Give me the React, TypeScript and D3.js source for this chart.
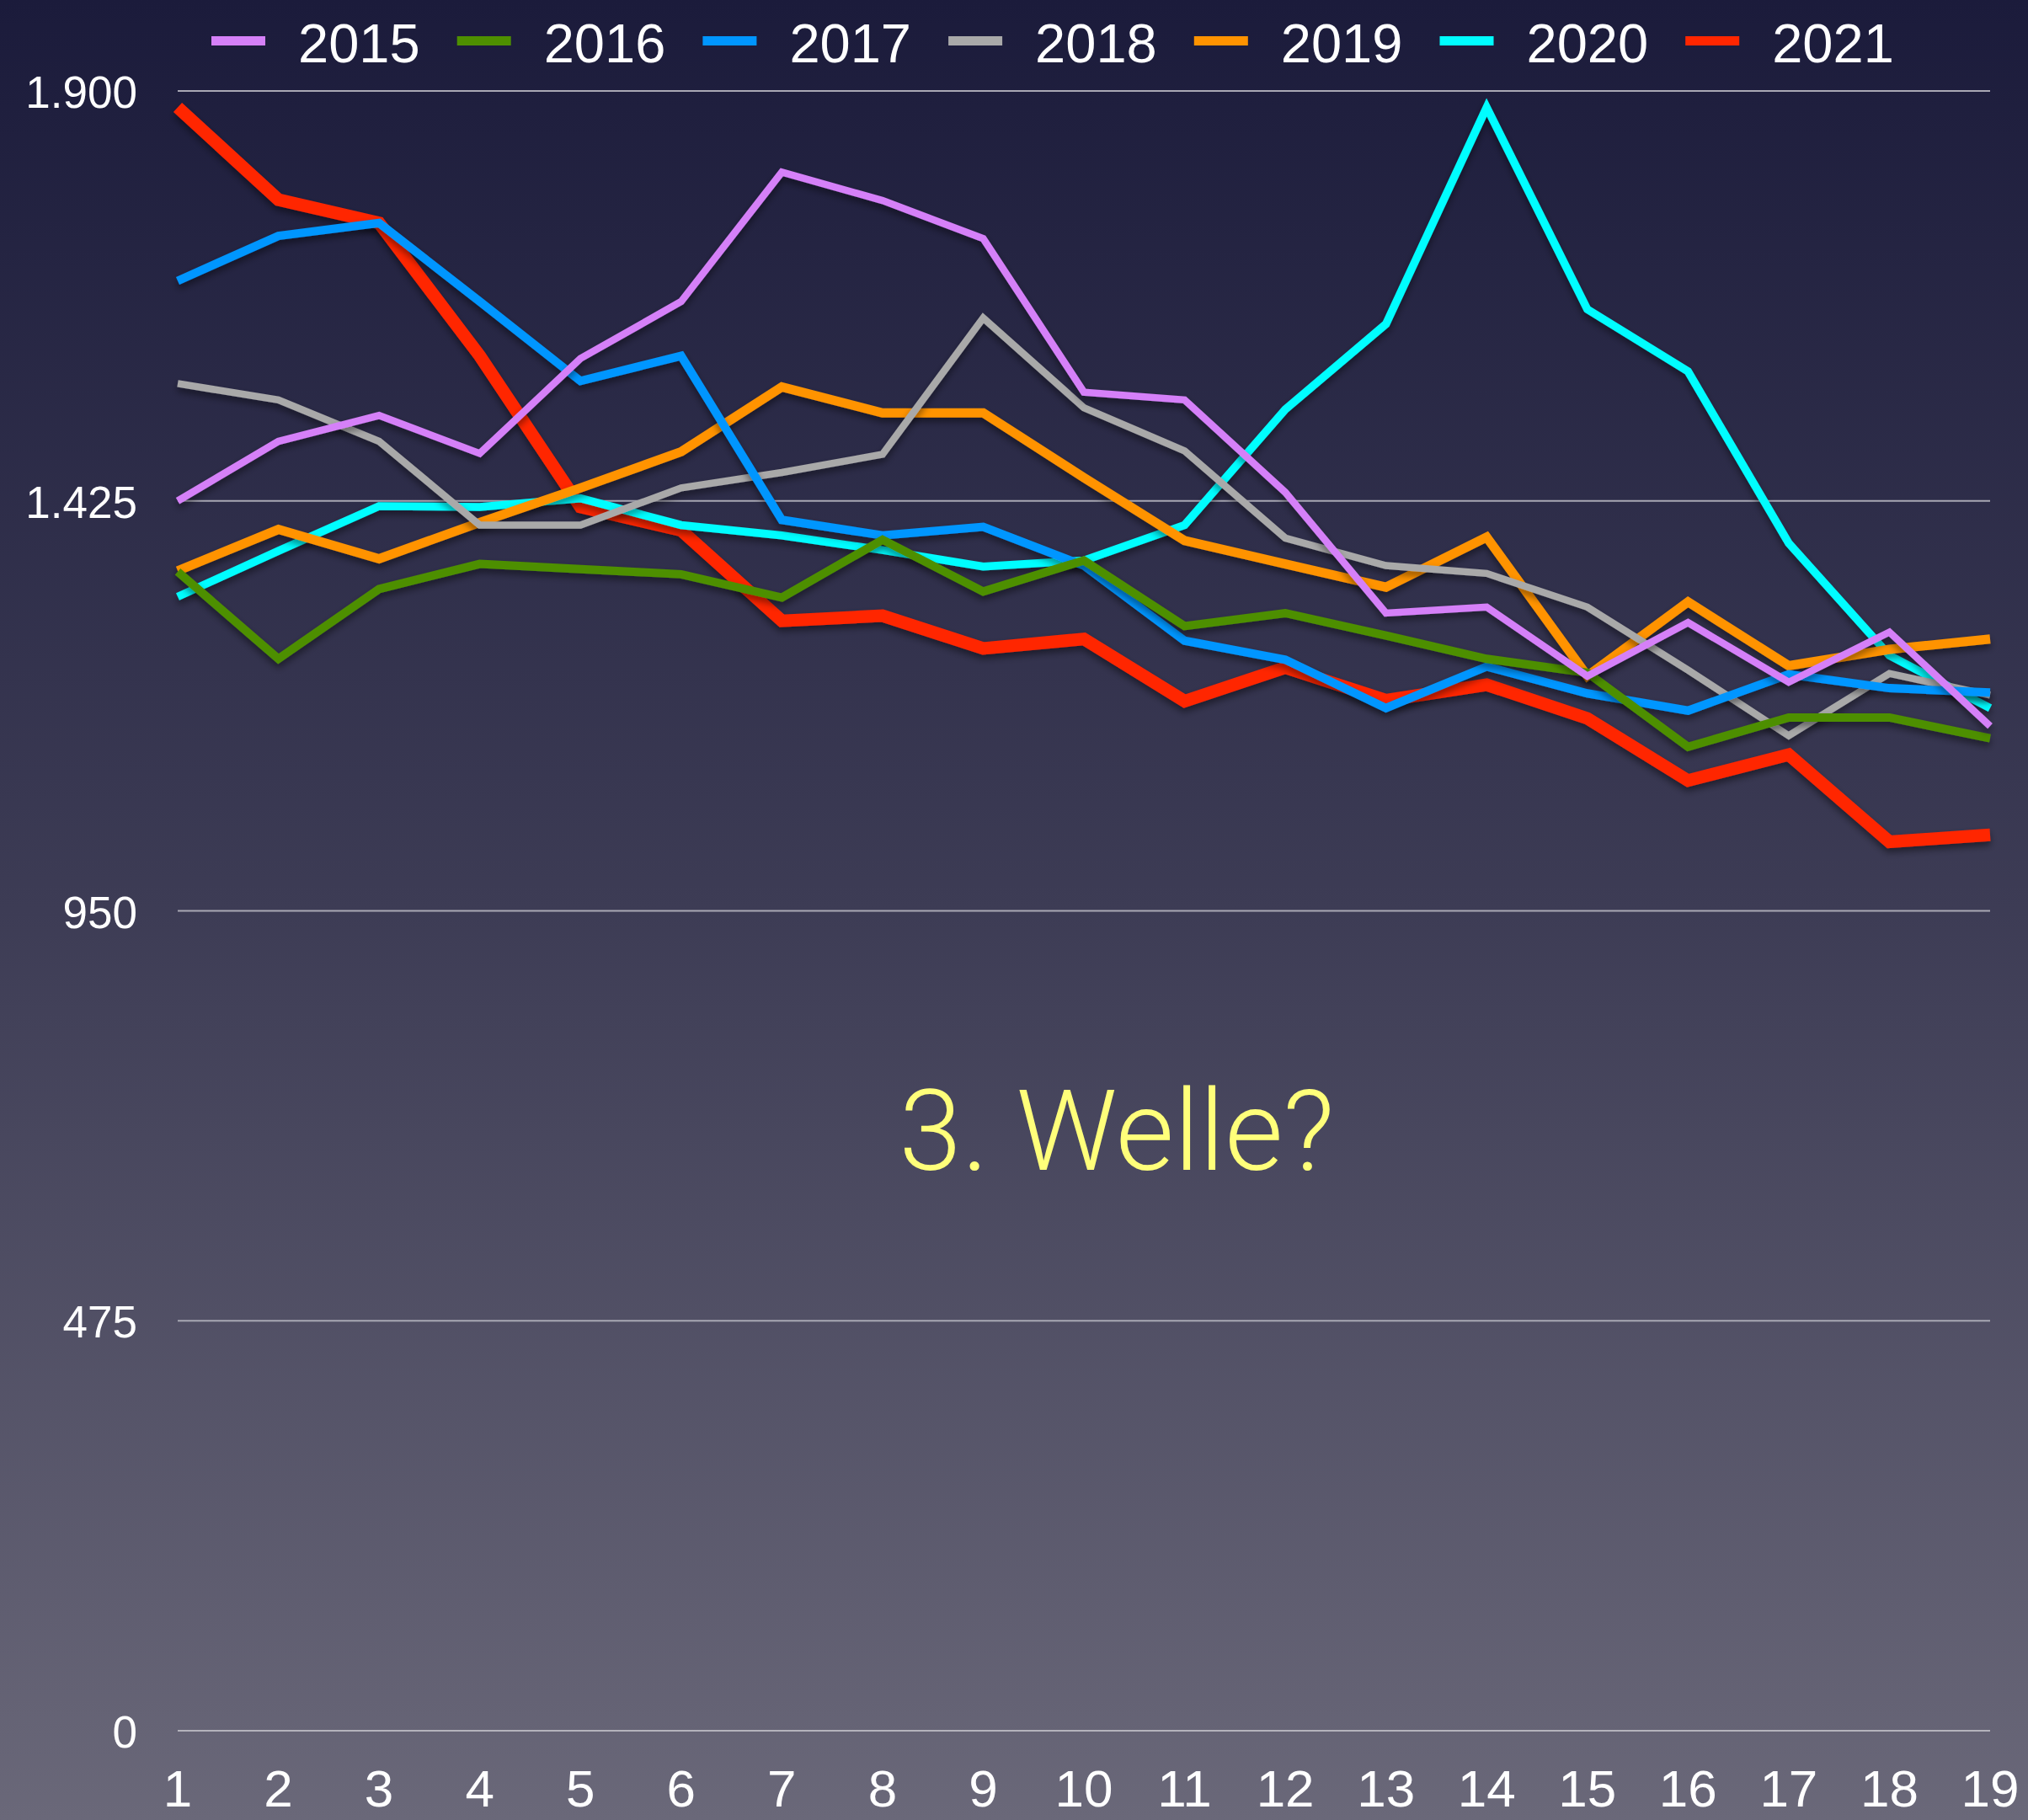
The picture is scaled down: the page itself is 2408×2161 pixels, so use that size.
import React from "react";
import * as d3 from "d3";

const W = 2408;
const H = 2161;

const years = ["2015", "2016", "2017", "2018", "2019", "2020", "2021"];
const colors = ["#d580f8", "#4e8f00", "#0096ff", "#a9a9a9", "#ff9300", "#00fdff", "#ff2600"];
const widths = [8.5, 10, 10, 8.5, 11, 9.5, 15];

const weeks = d3.range(1, 20);
const yTicks = [0, 475, 950, 1425, 1900];

const v2015 = [1425, 1494, 1524, 1480, 1590, 1656, 1806, 1773, 1729, 1551, 1542, 1435, 1295, 1302, 1222, 1284, 1215, 1273, 1164];
const v2016 = [1343, 1242, 1323, 1352, 1346, 1340, 1313, 1380, 1320, 1356, 1280, 1295, 1269, 1242, 1226, 1140, 1174, 1174, 1150];
const v2017 = [1680, 1732, 1747, 1656, 1564, 1593, 1403, 1385, 1395, 1350, 1263, 1241, 1185, 1233, 1202, 1182, 1224, 1208, 1203];
const v2018 = [1561, 1542, 1494, 1397, 1397, 1440, 1458, 1479, 1637, 1533, 1483, 1382, 1350, 1341, 1302, 1229, 1153, 1225, 1200];
const v2019 = [1344, 1392, 1358, 1400, 1440, 1482, 1557, 1527, 1527, 1452, 1379, 1352, 1325, 1383, 1222, 1308, 1234, 1253, 1265];
const v2020 = [1314, 1367, 1419, 1418, 1428, 1397, 1385, 1368, 1349, 1356, 1397, 1531, 1630, 1881, 1647, 1575, 1376, 1246, 1185];
const v2021 = [1881, 1774, 1747, 1593, 1418, 1391, 1286, 1292, 1254, 1265, 1193, 1232, 1194, 1212, 1173, 1101, 1131, 1030, 1038];

const series = [v2015, v2016, v2017, v2018, v2019, v2020, v2021];

const de = d3.formatLocale({ decimal: ",", thousands: ".", grouping: [3], currency: ["", " €"] });
const fmt = de.format(",");

const FONT = "'Helvetica Neue', 'Liberation Sans', Arial, sans-serif";
const LIGHT = "Roboto, 'Liberation Sans', sans-serif";

export default function App() {
  React.useEffect(() => {
    document.body.style.margin = "0";
  }, []);

  const x = d3.scaleLinear().domain([1, 19]).range([211, 2363]);
  const y = d3.scaleLinear().domain([0, 1900]).range([2055, 108]);
  const line = d3
    .line<number>()
    .x((_, i) => x(weeks[i]))
    .y((d) => y(d));

  // 2021 drawn first, 2015 ends on top
  const order = d3.range(series.length).reverse();

  return (
    <svg width={W} height={H} style={{ display: "block" }} fontFamily={FONT}>
      <defs>
        <linearGradient id="bg" x1="0" y1="0" x2="0" y2="1">
          <stop offset="0" stopColor="#1b1b3b" />
          <stop offset="0.5" stopColor="#3d3c55" />
          <stop offset="1" stopColor="#6a6879" />
        </linearGradient>
        <filter id="shadow" x="-5%" y="-5%" width="110%" height="115%">
          <feDropShadow dx="0" dy="5" stdDeviation="4" floodColor="#000" floodOpacity="0.45" />
        </filter>
      </defs>
      <rect width={W} height={H} fill="url(#bg)" />

      {yTicks.map((t) => (
        <g key={t}>
          <line x1={211} x2={2363} y1={y(t)} y2={y(t)} stroke={t === 0 ? "#b4b3bc" : "#a9a8b4"} strokeWidth={2} />
          <text x={163} y={y(t) + 20} fill="#fff" fontSize={53} textAnchor="end">
            {fmt(t)}
          </text>
        </g>
      ))}

      {weeks.map((w) => (
        <text key={w} x={x(w)} y={2145} fill="#fff" fontSize={62} textAnchor="middle">
          {w}
        </text>
      ))}

      {order.map((i) => (
        <path
          key={years[i]}
          d={line(series[i]) || ""}
          fill="none"
          stroke={colors[i]}
          strokeWidth={widths[i]}
          strokeLinejoin="miter"
          filter="url(#shadow)"
        />
      ))}

      <text x={1326} y={1389} fill="#ffff7a" fontSize={134} textAnchor="middle" fontFamily={LIGHT} fontWeight={300}>
        3. Welle?
      </text>

      {years.map((yr, i) => (
        <g key={yr} transform={`translate(${251 + i * 291.7},0)`}>
          <rect x={0} y={43} width={64} height={11} fill={colors[i]} />
          <text x={103} y={74} fill="#fff" fontSize={65}>
            {yr}
          </text>
        </g>
      ))}
    </svg>
  );
}
